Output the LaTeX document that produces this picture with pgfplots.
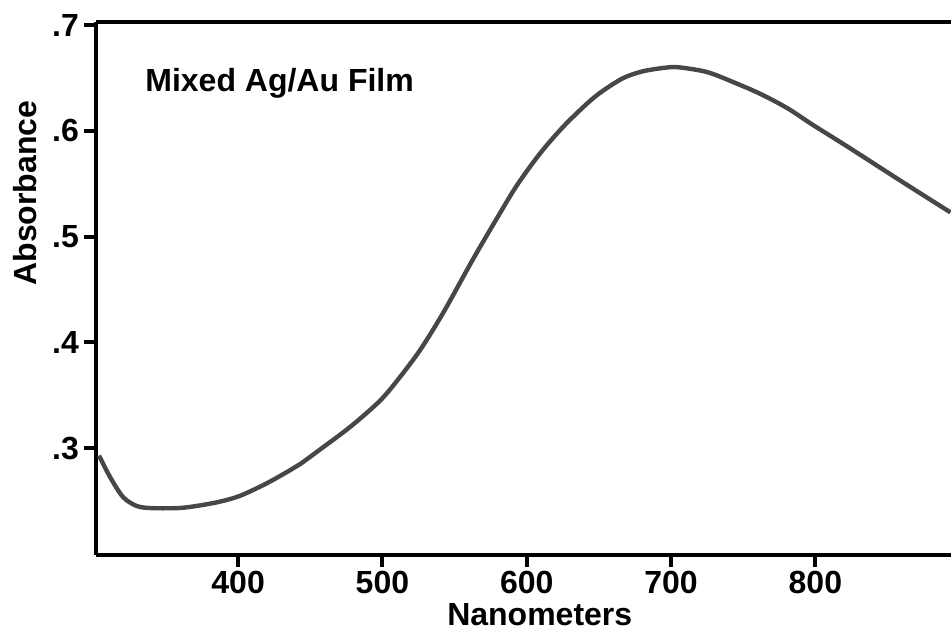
\documentclass[border=0pt]{standalone}
\usepackage{fontspec}
\setmainfont{Liberation Sans}
\usepackage{pgfplots}
\pgfplotsset{compat=1.18}
\begin{document}
\begin{tikzpicture}
\begin{axis}[
  name=ax,
  scale only axis,
  width=427.5pt, height=266.5pt,
  xmin=301.5, xmax=894, ymin=0.199, ymax=0.703,
  axis x line*=box, axis y line*=left,
  xtick pos=bottom,
  axis line style={line width=2pt, black},
  every tick/.style={line width=2pt, black},
  tick align=outside, tickwidth=6pt, minor tick num=0,
  xtick={400,500,600,700,800},
  xticklabels={400,500,600,700,800},
  ytick={0.3,0.4,0.5,0.6,0.7},
  yticklabels={.3,.4,.5,.6,.7},
  ticklabel style={font=\bfseries\fontsize{16}{16}\selectfont},
  xticklabel style={yshift=1.5pt},
  yticklabel style={xshift=1pt},
  xlabel={Nanometers},
  ylabel={Absorbance},
  label style={font=\bfseries\fontsize{16}{16}\selectfont},
  xlabel style={at={(axis description cs:0.519,-0.112)}, anchor=center},
  ylabel style={at={(axis description cs:-0.083,0.679)}, anchor=center, rotate=0},
  clip=false,
]
\addplot[line width=2.2pt, color=black!72, smooth, tension=0.5] coordinates {
(303.6,0.293) (311.3,0.2726) (320.3,0.2537) (330,0.2452) (341,0.2433)
(360,0.2435) (374,0.2460) (387.5,0.2495) (401.4,0.2550) (420,0.2669)
(436,0.2792) (443,0.2850) (457,0.2990) (478,0.3205) (498.4,0.345)
(512,0.367) (526.2,0.393) (542.1,0.428) (562.9,0.479) (579.6,0.518)
(593.4,0.549) (609.4,0.579) (625.3,0.604) (641.9,0.626) (652.3,0.6375)
(666.9,0.6500) (680.8,0.6565) (697.4,0.6600) (706.4,0.6600) (725.1,0.6556)
(743.2,0.6461) (761.9,0.6350) (780.6,0.6215) (798.6,0.6054) (822.9,0.5846)
(858.9,0.553) (893.6,0.523)
};
\node[anchor=base west, font=\bfseries\fontsize{16}{16}\selectfont, inner sep=0pt]
  at (rel axis cs:0.0573,0.8687) {Mixed Ag/Au Film};
\end{axis}
\pgfresetboundingbox
\path ([shift={(-48pt,-38.5pt)}]ax.south west) rectangle ([shift={(0pt,11pt)}]ax.north east);
\end{tikzpicture}
\end{document}
